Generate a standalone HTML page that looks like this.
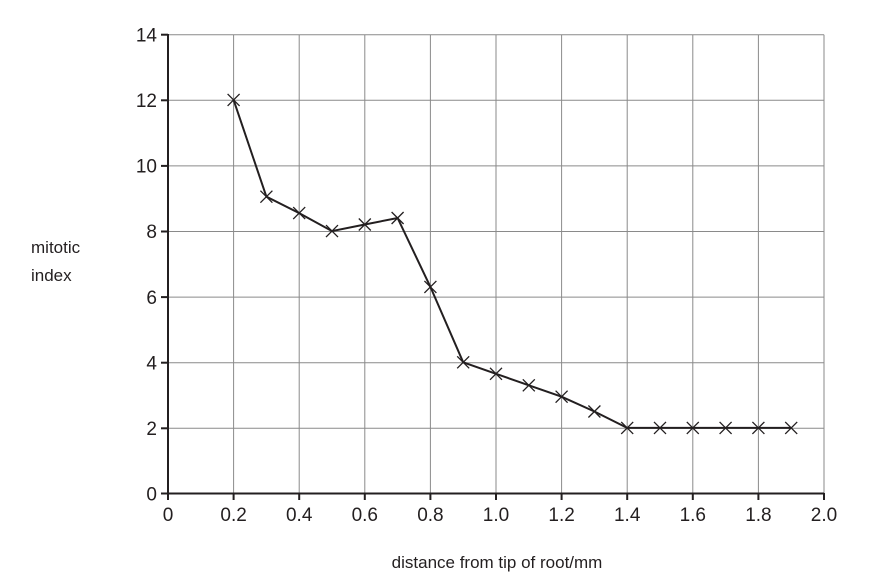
<!DOCTYPE html>
<html><head><meta charset="utf-8"><style>
html,body{margin:0;padding:0;background:#fff;}
svg text{font-family:"Liberation Sans",sans-serif;fill:#231f20;}
</style></head><body>
<svg width="893" height="582" viewBox="0 0 893 582" xmlns="http://www.w3.org/2000/svg">
<g stroke="#8a8a8a" stroke-width="1">
<line x1="168" y1="34.7" x2="824" y2="34.7"/>
<line x1="168" y1="100.3" x2="824" y2="100.3"/>
<line x1="168" y1="165.9" x2="824" y2="165.9"/>
<line x1="168" y1="231.5" x2="824" y2="231.5"/>
<line x1="168" y1="297.1" x2="824" y2="297.1"/>
<line x1="168" y1="362.7" x2="824" y2="362.7"/>
<line x1="168" y1="428.3" x2="824" y2="428.3"/>
<line x1="233.6" y1="34.7" x2="233.6" y2="493.5"/>
<line x1="299.2" y1="34.7" x2="299.2" y2="493.5"/>
<line x1="364.8" y1="34.7" x2="364.8" y2="493.5"/>
<line x1="430.4" y1="34.7" x2="430.4" y2="493.5"/>
<line x1="496" y1="34.7" x2="496" y2="493.5"/>
<line x1="561.6" y1="34.7" x2="561.6" y2="493.5"/>
<line x1="627.2" y1="34.7" x2="627.2" y2="493.5"/>
<line x1="692.8" y1="34.7" x2="692.8" y2="493.5"/>
<line x1="758.4" y1="34.7" x2="758.4" y2="493.5"/>
<line x1="824" y1="34.7" x2="824" y2="493.5"/>
</g>
<g stroke="#231f20" stroke-width="2">
<line x1="168" y1="34" x2="168" y2="494.5"/>
<line x1="167" y1="493.5" x2="824" y2="493.5"/>
<line x1="161" y1="34.7" x2="168" y2="34.7"/>
<line x1="161" y1="100.3" x2="168" y2="100.3"/>
<line x1="161" y1="165.9" x2="168" y2="165.9"/>
<line x1="161" y1="231.5" x2="168" y2="231.5"/>
<line x1="161" y1="297.1" x2="168" y2="297.1"/>
<line x1="161" y1="362.7" x2="168" y2="362.7"/>
<line x1="161" y1="428.3" x2="168" y2="428.3"/>
<line x1="161" y1="493.5" x2="168" y2="493.5"/>
<line x1="168" y1="493" x2="168" y2="500"/>
<line x1="233.6" y1="493" x2="233.6" y2="500"/>
<line x1="299.2" y1="493" x2="299.2" y2="500"/>
<line x1="364.8" y1="493" x2="364.8" y2="500"/>
<line x1="430.4" y1="493" x2="430.4" y2="500"/>
<line x1="496" y1="493" x2="496" y2="500"/>
<line x1="561.6" y1="493" x2="561.6" y2="500"/>
<line x1="627.2" y1="493" x2="627.2" y2="500"/>
<line x1="692.8" y1="493" x2="692.8" y2="500"/>
<line x1="758.4" y1="493" x2="758.4" y2="500"/>
<line x1="824" y1="493" x2="824" y2="500"/>
</g>
<g font-size="19" text-anchor="end">
<text x="157" y="41.5">14</text><text x="157" y="107">12</text><text x="157" y="172.5">10</text>
<text x="157" y="238">8</text><text x="157" y="304">6</text><text x="157" y="369.5">4</text>
<text x="157" y="435">2</text><text x="157" y="500.5">0</text>
</g>
<g font-size="19" text-anchor="middle">
<text x="168" y="521">0</text><text x="233.6" y="521">0.2</text><text x="299.2" y="521">0.4</text>
<text x="364.8" y="521">0.6</text><text x="430.4" y="521">0.8</text><text x="496" y="521">1.0</text>
<text x="561.6" y="521">1.2</text><text x="627.2" y="521">1.4</text><text x="692.8" y="521">1.6</text>
<text x="758.4" y="521">1.8</text><text x="824" y="521">2.0</text>
</g>
<text x="497" y="568" font-size="17" text-anchor="middle">distance from tip of root/mm</text>
<text x="31" y="253" font-size="17">mitotic</text>
<text x="31" y="281" font-size="17">index</text>
<polyline fill="none" stroke="#231f20" stroke-width="2" points="233.6,99.9 266.4,196.7 299.2,213.1 332,231.1 364.8,224.5 397.6,218 430.4,286.9 463.2,362.3 496,373.8 528.8,385.3 561.6,396.7 594.4,411.5 627.2,427.9 660,427.9 692.8,427.9 725.6,427.9 758.4,427.9 791.2,427.9"/>
<g stroke="#231f20" stroke-width="1.3">
<path d="M227.6,93.9l12,12M239.6,93.9l-12,12"/>
<path d="M260.4,190.7l12,12M272.4,190.7l-12,12"/>
<path d="M293.2,207.1l12,12M305.2,207.1l-12,12"/>
<path d="M326,225.1l12,12M338,225.1l-12,12"/>
<path d="M358.8,218.5l12,12M370.8,218.5l-12,12"/>
<path d="M391.6,212l12,12M403.6,212l-12,12"/>
<path d="M424.4,280.9l12,12M436.4,280.9l-12,12"/>
<path d="M457.2,356.3l12,12M469.2,356.3l-12,12"/>
<path d="M490,367.8l12,12M502,367.8l-12,12"/>
<path d="M522.8,379.3l12,12M534.8,379.3l-12,12"/>
<path d="M555.6,390.7l12,12M567.6,390.7l-12,12"/>
<path d="M588.4,405.5l12,12M600.4,405.5l-12,12"/>
<path d="M621.2,421.9l12,12M633.2,421.9l-12,12"/>
<path d="M654,421.9l12,12M666,421.9l-12,12"/>
<path d="M686.8,421.9l12,12M698.8,421.9l-12,12"/>
<path d="M719.6,421.9l12,12M731.6,421.9l-12,12"/>
<path d="M752.4,421.9l12,12M764.4,421.9l-12,12"/>
<path d="M785.2,421.9l12,12M797.2,421.9l-12,12"/>
</g>
</svg>
</body></html>
